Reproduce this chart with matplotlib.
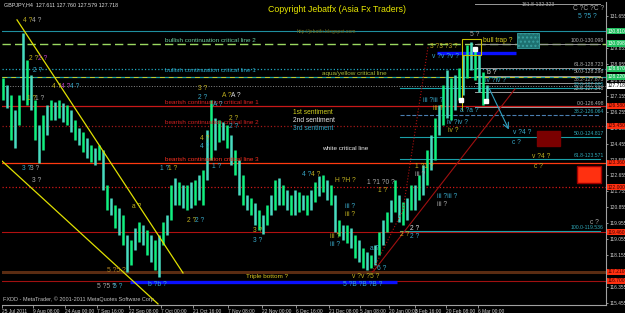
import matplotlib
matplotlib.use("Agg")
import matplotlib.pyplot as plt
from matplotlib.patches import Rectangle
import numpy as np

plt.rcParams['font.family'] = ['Liberation Sans', 'DejaVu Sans']

# ---------------- data ----------------
symbol_header = "GBPJPY,H4  127.611 127.760 127.579 127.718"
copyright_text = "Copyright Jebatfx (Asia Fx Traders)"
footer_text = "FXDD - MetaTrader, \u00a9 2001-2011 MetaQuotes Software Corp."

# high / low per period (period index 0..121)
highs = [128.16, 127.76, 127.20, 126.35, 127.20, 130.70, 129.18, 128.33, 126.92, 125.51,
         126.07, 126.63, 126.92, 126.80, 126.92, 126.75, 126.63, 126.35, 125.79, 125.34,
         125.11, 124.77, 124.38, 124.21, 124.38, 124.09, 122.12, 121.38, 120.99, 120.82,
         120.42, 119.30, 119.01, 119.69, 120.03, 119.86, 119.58, 119.30, 119.01, 119.30,
         120.03, 120.42, 122.12, 122.51, 122.29, 122.12, 122.12, 122.29, 122.40, 122.68,
         122.97, 125.22, 126.92, 125.90, 125.79, 125.68, 125.51, 124.94, 124.09, 123.53,
         122.68, 121.55, 121.38, 121.10, 120.71, 120.42, 120.99, 121.55, 122.40, 122.51,
         122.12, 121.84, 121.55, 121.84, 121.72, 121.55, 121.55, 121.84, 122.29, 122.63,
         122.68, 122.40, 122.12, 121.55, 120.14, 119.86, 119.86, 119.69, 119.30, 119.01,
         118.56, 118.34, 118.17, 118.73, 119.46, 120.14, 120.59, 121.27, 122.40, 121.55,
         121.16, 121.38, 122.12, 122.12, 122.68, 123.25, 124.09, 124.94, 125.90, 126.63,
         127.76, 128.61, 128.16, 128.33, 128.72, 129.46, 130.02, 130.19, 129.85, 129.46,
         128.50, 127.76]
lows = [126.92, 126.47, 124.66, 124.21, 125.51, 126.92, 126.63, 126.35, 124.66, 123.36,
        124.09, 124.94, 125.79, 125.79, 125.90, 125.68, 125.51, 125.11, 124.66, 124.38,
        123.98, 123.64, 123.42, 123.25, 123.53, 121.84, 120.71, 120.42, 119.69, 119.30,
        118.73, 117.21, 117.60, 118.45, 118.90, 118.73, 118.17, 117.77, 117.32, 116.92,
        118.73, 119.30, 120.14, 120.99, 120.99, 120.82, 120.71, 120.82, 120.99, 121.27,
        120.99, 122.40, 123.53, 124.09, 124.55, 124.66, 124.21, 123.25, 122.68, 121.55,
        120.99, 120.71, 120.42, 119.86, 119.58, 119.35, 119.86, 120.42, 120.71, 120.99,
        120.99, 120.71, 120.42, 120.42, 120.59, 120.71, 120.42, 120.71, 121.16, 121.50,
        121.72, 121.27, 120.99, 119.46, 119.24, 119.01, 118.84, 118.56, 118.00, 117.77,
        117.43, 117.32, 117.43, 117.60, 118.17, 118.73, 119.46, 120.03, 120.59, 120.03,
        119.86, 120.14, 120.71, 120.71, 121.27, 121.55, 122.12, 122.97, 123.53, 124.94,
        125.51, 125.90, 125.79, 126.35, 126.92, 127.20, 128.16, 128.61, 128.05, 127.37,
        126.63, 126.80]

date_tick_pos = [-0.25, 7.5, 15.5, 23.5, 31.5, 39.5, 47.5, 56.25, 64.75, 73.25,
                 81.5, 89.25, 96.5, 103.0, 110.75, 118.75]
date_tick_labels = ["25 Jul 2011", "9 Aug 08:00", "24 Aug 00:00", "7 Sep 16:00",
                    "22 Sep 08:00", "7 Oct 00:00", "21 Oct 16:00", "7 Nov 08:00",
                    "22 Nov 00:00", "6 Dec 16:00", "21 Dec 08:00", "5 Jan 08:00",
                    "20 Jan 00:00", "3 Feb 16:00", "20 Feb 08:00", "6 Mar 00:00"]

price_ticks = [115.455, 116.355, 117.255, 118.155, 119.055, 119.955, 120.855, 121.755,
               122.655, 123.555, 124.455, 125.355, 126.255, 127.155, 128.055, 128.955,
               129.855, 130.755, 131.655]

# horizontal critical levels
level_prices = [130.81, 130.08, 128.67, 128.22, 127.718, 126.58, 125.45, 123.36,
                122.00, 119.46, 117.21, 116.70]
level_colors = ['#1f8f9f', '#9ad860', '#20a8c0', '#1aa0a0', '#8a8a8a', '#c81818',
                '#a01818', '#ff3a10', '#d01818', '#b01010', '#5a2c12', '#a01010']
level_styles = ['-', (0, (6, 3)), ':', '-', ':', '-', ':', '-', ':', '-', '-', '-']
level_widths = [0.8, 1.0, 0.9, 0.9, 0.7, 0.9, 0.9, 0.9, 0.9, 0.8, 2.2, 0.8]

line_label_texts = ["bullish continuation critical line 2", "bullish continuation critical line 1",
                    "aqua/yellow critical line", "bearish continuation critical line 1",
                    "bearish continuation critical line 2", "bearish continuation critical line 3",
                    "Triple bottom ?"]
line_label_x = [40.5, 40.5, 79.75, 40.5, 40.5, 40.5, 60.75]
line_label_y = [130.25, 128.59, 128.44, 126.75, 125.62, 123.53, 116.93]
line_label_colors = ['#6ccca0', '#2aa6c4', '#a8b838', '#e02020', '#d02020', '#ff3020', '#d8c820']

# fibonacci levels
fib_up_prices = [132.323, 130.098, 128.723, 128.298, 127.873, 127.348, 126.498]
fib_up_labels = ["161.8-132.323", "100.0-130.098", "61.8-128.723", "50.0-128.298",
                 "38.2-127.873", "23.6-127.348", "0.0-126.498"]
fib_up_start = 118.0
fib_dn_prices = [127.605, 126.064, 124.817, 123.571, 119.536]
fib_dn_labels = ["23.6-127.605", "38.2-126.064", "50.0-124.817", "61.8-123.571", "100.0-119.536"]
fib_dn_colors = ['#1aa0a8', '#4a7eb0', '#1aa0a8', '#1aa0a8', '#1aa0a8']
fib_dn_styles = ['-', '--', '-', '-', '-']
fib_dn_start = 99.25
fib_end = 149.25

# trend lines (period index, price)
yellow_line_a = ([3.5, 45.0], [131.44, 117.15])
yellow_line_b = ([-0.25, 38.75], [123.47, 115.40])
red_diag = ([92.5, 128.0], [117.21, 127.54])
red_dotted = ([92.25, 100.0, 106.25], [117.21, 120.71, 129.91])
arrow_from = (121.25, 127.71)
arrow_to = (126.75, 125.11)
blue_segments = [((31.75, 98.5), 116.64), ((108.5, 128.25), 129.57)]
bull_trap_box = (114.75, 119.5, 129.46, 130.36)
teal_zone = (128.5, 134.0, 129.85, 130.70)
dark_red_zone = (133.5, 139.25, 124.32, 125.17)
red_zone = (143.5, 149.5, 122.23, 123.19)
white_marks_x = [114.5, 118.0, 120.75]
white_marks_y = [126.92, 129.80, 126.86]

# right-axis price tags
tag_prices = [130.81, 130.098, 128.67, 128.22, 127.718, 126.58, 125.45, 123.36,
              122.00, 119.46, 117.21, 116.70]
tag_kinds = ['g', 'g', 'g', 'g', 'w', 'r', 'r', 'r', 'r', 'r', 'r', 'r']

# wave count labels (reference pixel x, y, text, colour)
OL, GR, TE, MA, WH, BR = '#c0b020', '#a8a8a8', '#38a8c8', '#c040c0', '#e0e0e0', '#b08020'
wave_labels = [
    (23, 20, "4 ?", OL), (32, 20, "4 ?", GR),
    (29, 59, "2 ?", OL), (38, 59, "2 ?", MA), (33, 70, "2 ?", TE),
    (52, 87, "4 ?", OL), (61, 87, "4 ?", MA), (70, 87, "4 ?", TE),
    (27, 99, "1 ?", OL), (35, 99, "1 ?", GR),
    (22, 169, "3 ?", TE), (30, 169, "3 ?", GR), (32, 181, "3 ?", GR),
    (132, 206, "a ?", OL), (187, 221, "2 ?", OL), (195, 221, "2 ?", TE),
    (107, 271, "5 ?5 ?", BR), (97, 286, "5 ?5 ?", GR), (113, 286, "5 ?", TE),
    (148, 285, "b ?b ?", TE),
    (160, 169, "1 ?", TE), (168, 169, "1 ?", OL),
    (198, 89, "3 ?", OL), (198, 98, "2 ?", TE),
    (200, 139, "4 ?", OL), (200, 146, "4 ?", TE),
    (222, 95, "A ?", OL), (231, 95, "A ?", WH), (213, 104, "A ?", TE),
    (229, 118, "2 ?", OL), (229, 126, "2 ?", TE), (212, 167, "1 ?", TE),
    (302, 175, "4 ?", TE), (311, 175, "4 ?", OL),
    (335, 181, "H ?H ?", OL), (367, 182, "1 ?1 ?0 ?", GR), (378, 190, "1 ?", OL),
    (253, 230, "3 ?", OL), (253, 240, "3 ?", TE),
    (345, 206, "iii ?", TE), (345, 214, "iii ?", OL),
    (330, 237, "iii ?", OL), (330, 245, "iii ?", TE),
    (370, 249, "a ?", TE), (377, 269, "6 ?", TE),
    (352, 277, "v ?v ?5 ?", OL), (343, 285, "5 ?B ?B ?B ?", TE),
    (400, 235, "2 ?", OL), (410, 228, "2 ?", WH), (410, 236, "2 ?", TE),
    (415, 167, "1 ?1 ?", OL), (415, 174, "iii ?", GR),
    (437, 196, "iii ?iii ?", TE), (437, 204, "iii ?", GR),
    (447, 123, "iv ?iv ?", TE), (448, 130, "iv ?", OL),
    (460, 110, "a ?a ?", TE), (423, 100, "iii ?iii ?", TE), (433, 108, "iii ?", OL),
    (470, 35, "5 ?", GR), (430, 47, "3 ?3 ?3 ?", OL), (432, 56, "v ?v ?v ?", TE),
    (487, 72, "b ?", WH), (485, 81, "iv ?iv ?", TE),
    (573, 8, "C ?C ?C ?", GR), (578, 16, "5 ?5 ?", TE),
    (512, 142, "c ?", TE), (513, 133, "v ?4 ?", TE),
    (532, 157, "v ?4 ?", OL), (534, 167, "c ?", OL), (590, 222, "c ?", GR),
]

# ---------------- figure ----------------
fig = plt.figure(figsize=(6.25, 3.13), dpi=100, facecolor='black')
ax = fig.add_axes([2 / 625, 8 / 313, 604 / 625, 303 / 313])
ax.set_facecolor('black')
ax.set_xlim(-0.25, 150.75)
ax.set_ylim(115.34, 132.45)


def px(x, y):
    return ((x - 2) / 604, (305 - y) / 303)


# levels
for p, c, s, w in zip(level_prices, level_colors, level_styles, level_widths):
    ax.axhline(p, color=c, ls=s, lw=w, zorder=1)
ax.axhline(128.22, color='#c8c828', ls=(0, (5, 4)), lw=0.7, zorder=1)

# fib levels
for p, lab in zip(fib_up_prices, fib_up_labels):
    ax.plot([fib_up_start, fib_end], [p, p], color='#9a9a9a', lw=0.7, zorder=1)
    if p > 132:
        ax.text(138.0, p - 0.04, lab, color='#b0b0b0', fontsize=3.7, ha='right', va='center')
    else:
        ax.text(150.2, p + 0.06, lab, color='#b0b0b0', fontsize=3.7, ha='right', va='bottom')
for p, lab, c, s in zip(fib_dn_prices, fib_dn_labels, fib_dn_colors, fib_dn_styles):
    ax.plot([fib_dn_start, fib_end], [p, p], color=c, lw=0.8, ls=s, zorder=1)
    ax.text(150.2, p + 0.06, lab, color='#30a8b8', fontsize=3.7, ha='right', va='bottom')

# blue segments
for (x0, x1), p in blue_segments:
    ax.plot([x0, x1], [p, p], color='#0a10ff', lw=2.4, solid_capstyle='butt', zorder=2)

# zones
x0, x1, y0, y1 = teal_zone
ax.add_patch(Rectangle((x0, y0), x1 - x0, y1 - y0, facecolor='#1e7070', edgecolor='#3aa0a0',
                       hatch='....', lw=0.6, zorder=2))
x0, x1, y0, y1 = dark_red_zone
ax.add_patch(Rectangle((x0, y0), x1 - x0, y1 - y0, facecolor='#7a0000', edgecolor='#7a0000', zorder=2))
x0, x1, y0, y1 = red_zone
ax.add_patch(Rectangle((x0, y0), x1 - x0, y1 - y0, facecolor='#ff3010', edgecolor='#a00000',
                       lw=1.0, zorder=2))

# price bars
idx = np.arange(len(highs))
bar_cols = ['#10f080' if k % 2 == 0 else '#48dcc0' for k in idx]
ax.vlines(idx, lows, highs, colors=bar_cols, lw=1.8, zorder=3)

# trend lines
ax.plot(*yellow_line_a, color='#e0e000', lw=0.9, zorder=4)
ax.plot(*yellow_line_b, color='#e0e000', lw=0.9, zorder=4)
ax.plot(*red_diag, color='#a01010', lw=0.8, zorder=4)
ax.plot(*red_dotted, color='#b01010', lw=0.8, ls=':', zorder=4)
ax.annotate('', xy=arrow_to, xytext=arrow_from,
            arrowprops=dict(arrowstyle='->', color='#30a0c0', lw=0.8), zorder=4)

# bull trap box
x0, x1, y0, y1 = bull_trap_box
ax.add_patch(Rectangle((x0, y0), x1 - x0, y1 - y0, facecolor='none', edgecolor='#c8c000',
                       lw=0.8, zorder=4))
ax.plot([x0, x0], [126.35, y0], color='#c8c000', lw=0.7, zorder=4)
ax.text(x1 + 0.5, 130.25, "bull trap ?", color='#d8d020', fontsize=4.8, va='center')
ax.plot(white_marks_x, white_marks_y, ls='none', marker='s', ms=3.2, color='white', zorder=5)

# line labels
for t, x, y, c in zip(line_label_texts, line_label_x, line_label_y, line_label_colors):
    ax.text(x, y, t, color=c, fontsize=4.6, va='center', ha='left', zorder=5)

# free texts
ax.text(*px(293, 113), "1st sentiment", color='#d0d020', fontsize=4.8, va='center', transform=ax.transAxes)
ax.text(*px(293, 120), "2nd sentiment", color='#e8e8e8', fontsize=4.8, va='center', transform=ax.transAxes)
ax.text(*px(293, 128), "3rd sentiment", color='#30a8c8', fontsize=4.8, va='center', transform=ax.transAxes)
ax.text(*px(322, 149), "white critical line", color='#e8e8e8', fontsize=4.6, va='center', transform=ax.transAxes)
ax.text(*px(268, 9), copyright_text, color='#e8e800', fontsize=6.3, va='center', transform=ax.transAxes)
ax.text(*px(297, 31), "http://jebatfx.blogspot.com", color='#707020', fontsize=3.6, va='center',
        transform=ax.transAxes)
ax.text(*px(4, 5), symbol_header, color='#e0e0e0', fontsize=3.9, va='center', transform=ax.transAxes)
ax.text(*px(3, 299), footer_text, color='#c0c0c0', fontsize=4.0, va='center', transform=ax.transAxes)

for x, y, t, c in wave_labels:
    ax.text(*px(x, y), t, color=c, fontsize=4.8, va='center', ha='left', transform=ax.transAxes,
            zorder=6)

# axes styling
for side in ['top', 'left']:
    ax.spines[side].set_visible(False)
ax.spines['right'].set_color('#a0a0a0')
ax.spines['bottom'].set_color('#a0a0a0')
ax.spines['right'].set_linewidth(0.8)
ax.spines['bottom'].set_linewidth(0.8)

ax.yaxis.tick_right()
ax.set_yticks(price_ticks)
ax.set_yticklabels([f"{v:.3f}" for v in price_ticks])
ax.tick_params(axis='y', colors='#d0d0d0', labelsize=3.5, length=1.5, width=0.5, pad=0.8)
ax.set_xticks(date_tick_pos)
ax.set_xticklabels(date_tick_labels)
ax.tick_params(axis='x', colors='#d0d0d0', labelsize=3.5, length=2, width=0.5, pad=0.8)
for lbl in ax.get_xticklabels():
    lbl.set_ha('left')

# right-axis price tags
tag_style = {'g': ('#20c060', 'white'), 'w': ('white', 'black'), 'r': ('#ff3010', '#400000')}
for p, k in zip(tag_prices, tag_kinds):
    fc, tc = tag_style[k]
    ax.text(1.003, p, f"{p:.3f}", transform=ax.get_yaxis_transform(), color=tc, fontsize=3.5,
            ha='left', va='center', clip_on=False, zorder=10,
            bbox=dict(boxstyle='square,pad=0.15', facecolor=fc, edgecolor='none'))

fig.savefig('out.png', dpi=100, facecolor='black')
